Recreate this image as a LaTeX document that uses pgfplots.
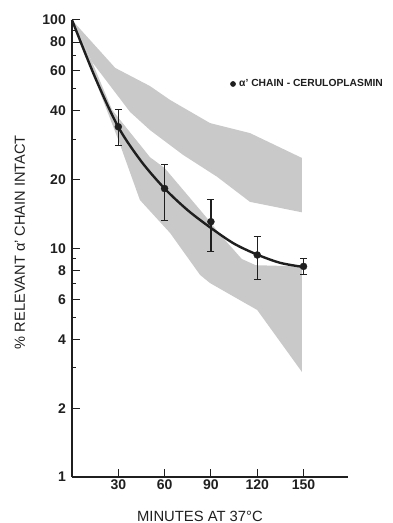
\documentclass[border=0pt]{standalone}
\usepackage{pgfplots}
\pgfplotsset{compat=1.18}
\usepackage{fontspec}
\setmainfont{Liberation Sans}
\definecolor{band}{gray}{0.79}
\definecolor{ink}{gray}{0.12}
\begin{document}
\begin{tikzpicture}
\useasboundingbox (-72pt,-46pt) rectangle (320pt,477pt);
\begin{axis}[
  scale only axis, width=276.3pt, height=457pt,
  xmin=0, xmax=179, ymin=1, ymax=100, ymode=log,
  axis lines=left, x axis line style={-}, y axis line style={-},
  axis line style={line width=1.1pt, ink},
  tick align=inside, major tick length=8pt, minor tick length=4pt,
  every tick/.style={line width=1pt, ink},
  xtick={30,60,90,120,150}, xticklabels={30,60,90,120,150},
  ytick={1,2,4,6,8,10,20,40,60,80,100},
  yticklabels={1,2,4,6,8,10,20,40,60,80,100},
  minor ytick={3,5,7,9,30,50,70,90},
  ticklabel style={font=\fontsize{14}{16}\selectfont\bfseries, text=ink},
  xticklabel style={inner sep=3pt},
  yticklabel style={inner sep=2pt, xshift=-4pt},
  xlabel={MINUTES AT 37°C},
  xlabel style={at={(axis description cs:0.463,0)}, anchor=base, yshift=-44pt, font=\fontsize{14.8}{16}\selectfont, text=ink},
  ylabel={\% RELEVANT α’ CHAIN INTACT},
  ylabel style={at={(axis description cs:-0.1701,0.514)}, anchor=base, font=\fontsize{14.6}{16}\selectfont, text=ink},
  clip=false,
  legend style={draw=none, fill=none, at={(0.572,0.860)}, anchor=west, inner sep=0pt, font=\fontsize{10.3}{12}\selectfont\bfseries, text=ink},
  legend cell align=left,
  legend image code/.code={\fill[ink] (0pt,0pt) circle (2.6pt); \path (4pt,0pt);},
]
% upper band
\addplot[fill=band, draw=none, forget plot] coordinates {
  (0,100) (28,61.7) (50.5,51.4) (63.5,44.7) (89.4,35.4) (115.3,32.0) (149,24.9)
  (149,14.4) (115.3,16.0) (94,20.6) (71.9,25.7) (50.5,33.0) (37.6,39.6) (13,65.5) (0,100)
} -- cycle;
% lower band
\addplot[fill=band, draw=none, forget plot] coordinates {
  (0,100) (13,65.5) (26,40.4) (50.5,25.1) (60,22.5) (87,13.7) (96,11.5) (110,9.0) (119,8.45) (149,8.35)
  (149,2.88) (120,5.38) (89.4,7.06) (83,7.66) (63.5,11.7) (44,16.3) (30,29.9) (0,100)
} -- cycle;
% fitted curve
\addplot[smooth, line width=2.4pt, ink, forget plot] coordinates {
  (0,100) (15,56) (30,34) (45,24) (60,18.3) (75,14.7) (90,12.3) (105,10.5) (120,9.4) (135,8.65) (150,8.3)
};
% data with error bars
\addplot[only marks, mark=*, mark size=3.5pt, ink,
  error bars/.cd, y dir=both, y explicit,
  error bar style={line width=1.2pt, ink},
  error mark options={rotate=90, mark size=3.5pt, line width=1pt, ink}]
coordinates {
  (30,34.1) += (0,6.3) -= (0,6.0)
  (60,18.3) += (0,4.9) -= (0,5.0)
  (90,13.1) += (0,3.3) -= (0,3.35)
  (120,9.37) += (0,1.97) -= (0,2.02)
  (150,8.35) += (0,0.67) -= (0,0.62)
};
\addlegendentry{α’ CHAIN - CERULOPLASMIN}
\end{axis}
\end{tikzpicture}
\end{document}
